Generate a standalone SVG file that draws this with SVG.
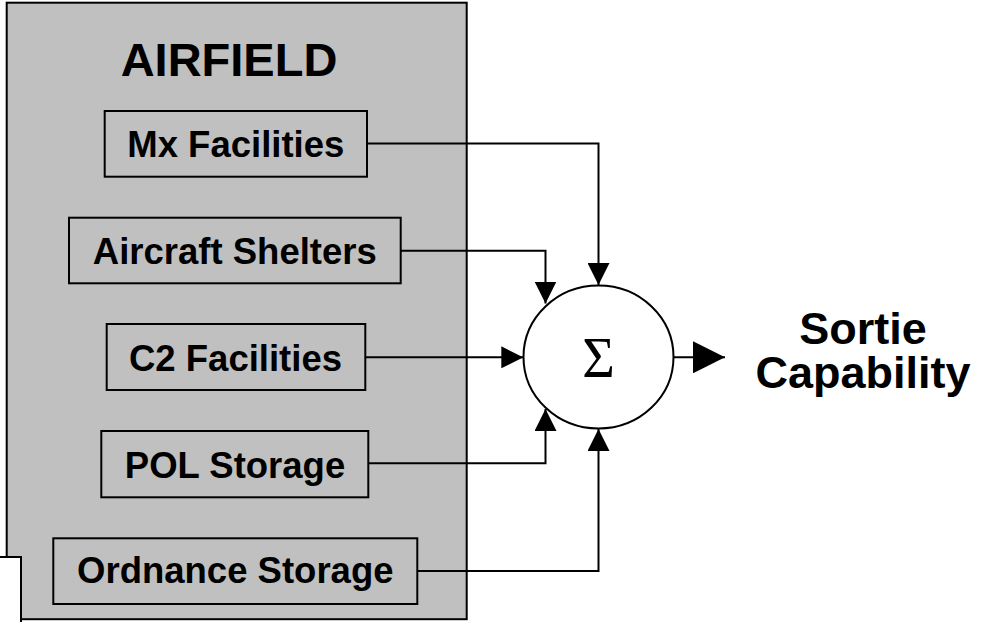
<svg xmlns="http://www.w3.org/2000/svg" width="990" height="622" viewBox="0 0 990 622">
  <style>
    .box { fill: #C0C0C0; stroke: #000; stroke-width: 2; }
    .lbl { font-family: "Liberation Sans", Arial, sans-serif; font-weight: bold; font-size: 36.5px; fill: #000; text-anchor: middle; }
    .big { font-family: "Liberation Sans", Arial, sans-serif; font-weight: bold; font-size: 45px; fill: #000; text-anchor: middle; }
    .conn { fill: none; stroke: #000; stroke-width: 2; }
  </style>
  <defs>
    <marker id="ah" markerUnits="userSpaceOnUse" markerWidth="22" markerHeight="22" viewBox="0 0 22 22" refX="22" refY="11" orient="auto">
      <path d="M0,0 L22,11 L0,22 Z" fill="#000"/>
    </marker>
    <marker id="ahBig" markerUnits="userSpaceOnUse" markerWidth="32" markerHeight="32" viewBox="0 0 32 32" refX="32" refY="16" orient="auto">
      <path d="M0,0 L32,16 L0,32 Z" fill="#000"/>
    </marker>
  </defs>

  <rect width="990" height="622" fill="#fff"/>

  <g id="airfield">
    <rect class="box" x="6.7" y="2.7" width="460" height="616.5"/>
    <rect x="-5" y="557" width="26" height="80" fill="#fff" stroke="#000" stroke-width="2"/>
    <text class="big" x="229" y="76" style="font-size:47px">AIRFIELD</text>
  </g>

  <g id="mx">
    <rect class="box" x="104.7" y="111" width="262.3" height="65.7"/>
    <text class="lbl" x="235.8" y="157.3">Mx Facilities</text>
  </g>
  <g id="shelters">
    <rect class="box" x="69" y="217.7" width="331.7" height="65.6"/>
    <text class="lbl" x="234.8" y="264">Aircraft Shelters</text>
  </g>
  <g id="c2">
    <rect class="box" x="106.7" y="324" width="258.6" height="66"/>
    <text class="lbl" x="235.5" y="371">C2 Facilities</text>
  </g>
  <g id="pol">
    <rect class="box" x="101.3" y="431" width="267" height="66.3"/>
    <text class="lbl" x="235" y="477.7">POL Storage</text>
  </g>
  <g id="ordnance">
    <rect class="box" x="53.3" y="538.3" width="364" height="65.7"/>
    <text class="lbl" x="235.3" y="583.3">Ordnance Storage</text>
  </g>

  <g id="sum">
    <ellipse cx="598.5" cy="357" rx="75" ry="71.5" fill="#fff" stroke="#000" stroke-width="2"/>
    <text x="598.5" y="377" text-anchor="middle" font-family="'Liberation Serif', 'Times New Roman', serif" font-size="56">Σ</text>
  </g>

  <g id="output">
    <text class="big" x="863" y="344">Sortie</text>
    <text class="big" x="863" y="388">Capability</text>
  </g>

  <g id="connectors">
    <path class="conn" d="M367,143.5 H598.5 V285" marker-end="url(#ah)"/>
    <path class="conn" d="M400.7,250.7 H545.5 V303.5" marker-end="url(#ah)"/>
    <path class="conn" d="M365.3,357.3 H523.3" marker-end="url(#ah)"/>
    <path class="conn" d="M368.3,463.3 H545.5 V409" marker-end="url(#ah)"/>
    <path class="conn" d="M417.3,571 H598.5 V429" marker-end="url(#ah)"/>
    <path class="conn" d="M673.5,357.3 H725" marker-end="url(#ahBig)"/>
  </g>
</svg>
